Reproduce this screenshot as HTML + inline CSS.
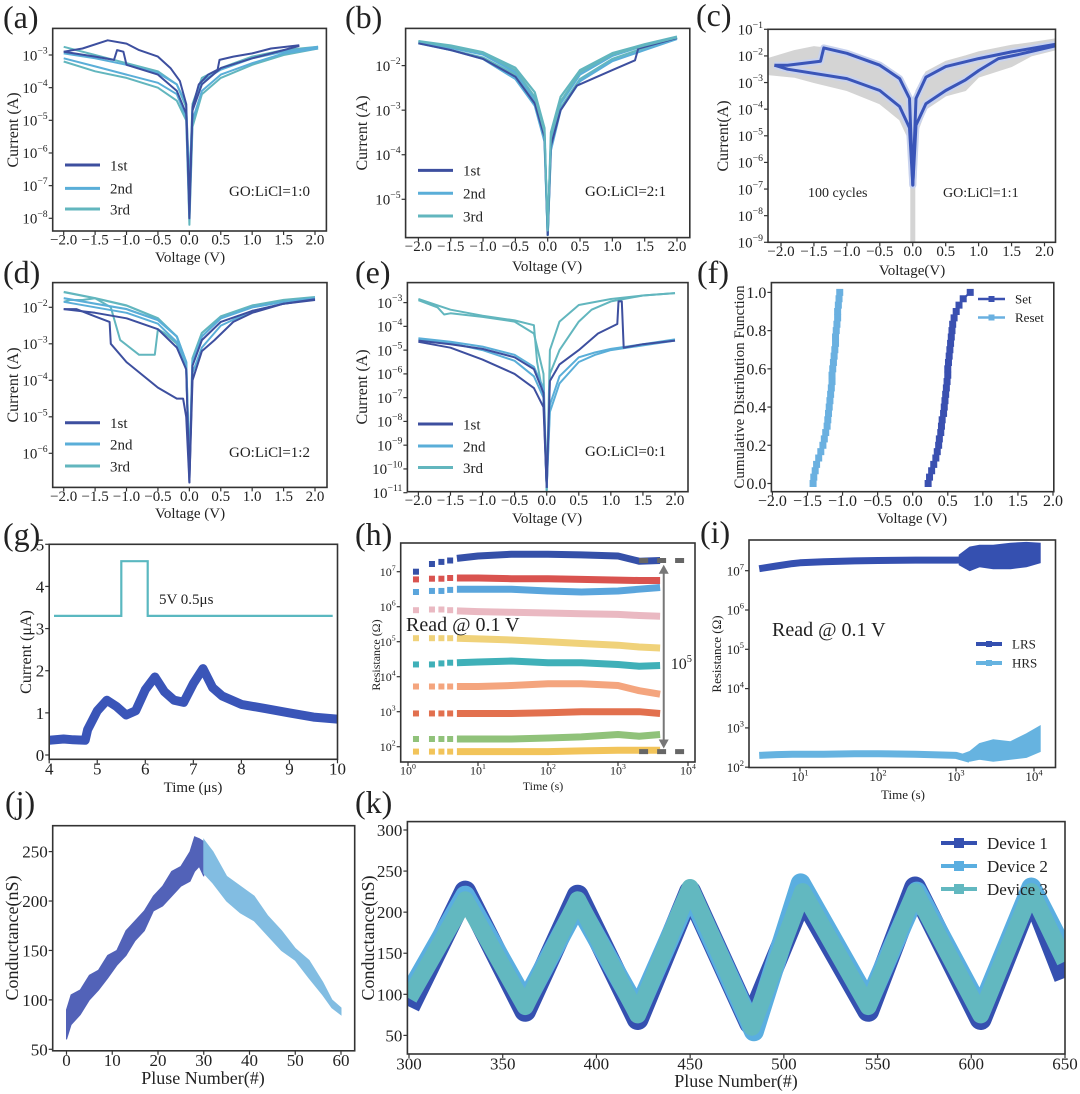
<!DOCTYPE html>
<html><head><meta charset="utf-8">
<style>
html,body{margin:0;padding:0;background:#fff;}
svg{display:block;font-family:"Liberation Serif","DejaVu Serif",serif;}
</style></head>
<body>
<svg id="fig" xmlns="http://www.w3.org/2000/svg" width="1080" height="1094" viewBox="0 0 1080 1094">
<rect x="0" y="0" width="1080" height="1094" fill="#fff"/>
</svg>
<script>
// ---------------- data ----------------
const a1hiV=[-2,-1.7,-1.3,-1.0,-0.8,-0.5,-0.3,-0.15,-0.05,0,0.05,0.15,0.3,0.45,0.48,0.7,1.0,1.3,1.75];
const a1hi=[-2.9,-2.8,-2.55,-2.65,-2.85,-3.05,-3.4,-3.8,-4.5,-8.0,-4.6,-3.9,-3.6,-3.45,-3.15,-3.05,-2.95,-2.8,-2.7];
const a1loV=[-2,-1.5,-1.2,-1.15,-1.05,-1.0,-0.5,-0.2,-0.05,0,0.05,0.2,0.5,1,1.5,1.75];
const a1lo=[-2.9,-3.05,-3.15,-2.85,-2.9,-3.3,-3.6,-4.1,-4.8,-7.5,-4.7,-3.9,-3.4,-3.1,-2.85,-2.72];
const aV=[-2,-1.5,-1,-0.5,-0.2,-0.05,0,0.05,0.2,0.5,1,1.5,2.05];
const a2hi=[-2.95,-3.1,-3.3,-3.55,-3.9,-4.5,-7,-4.6,-3.8,-3.45,-3.1,-2.9,-2.75];
const a2lo=[-3.1,-3.35,-3.6,-3.85,-4.2,-4.9,-8,-5.0,-4.1,-3.6,-3.25,-2.95,-2.8];
const a3hi=[-2.75,-3.0,-3.25,-3.5,-3.9,-4.6,-7,-4.5,-3.7,-3.4,-3.05,-2.85,-2.75];
const a3lo=[-3.2,-3.5,-3.7,-4.0,-4.4,-5.0,-8.2,-5.2,-4.2,-3.7,-3.3,-3.0,-2.8];
const bV=[-2,-1.5,-1,-0.5,-0.2,-0.05,0,0.05,0.2,0.5,1,1.5,2];
const b1hi=[-1.45,-1.58,-1.72,-2.1,-2.7,-3.5,-5.7,-3.6,-2.8,-2.15,-1.75,-1.55,-1.37];
const b1loV=[-2,-1.5,-1,-0.5,-0.2,-0.05,0,0.05,0.2,0.45,1,1.35,1.4,2];
const b1lo=[-1.5,-1.65,-1.85,-2.25,-2.85,-3.6,-5.8,-3.8,-3.0,-2.45,-2.1,-1.88,-1.62,-1.38];
const b2hi=[-1.47,-1.6,-1.75,-2.15,-2.75,-3.55,-5.8,-3.7,-2.85,-2.2,-1.78,-1.55,-1.37];
const b2lo=[-1.5,-1.65,-1.85,-2.3,-2.9,-3.7,-5.8,-3.9,-3.0,-2.35,-1.9,-1.65,-1.4];
const b3hi=[-1.45,-1.55,-1.7,-2.05,-2.6,-3.4,-5.8,-3.5,-2.7,-2.1,-1.72,-1.52,-1.35];
const b3lo=[-1.48,-1.65,-1.82,-2.2,-2.8,-3.6,-5.8,-3.8,-2.95,-2.3,-1.85,-1.6,-1.38];
const cBandV=[-2.2,-1.8,-1.5,-1,-0.5,-0.2,-0.05,0,0.05,0.2,0.5,0.8,1,1.5,1.8,2.2];
const cBandHi=[-2.1,-1.8,-1.65,-1.8,-2.25,-2.75,-3.4,-4.5,-3.3,-2.6,-2.2,-2.0,-1.85,-1.6,-1.5,-1.35];
const cBandLo=[-2.7,-2.8,-3.0,-3.3,-3.8,-4.4,-5.2,-7.0,-5.0,-4.0,-3.5,-3.3,-2.8,-2.4,-2.0,-1.75];
const cHiV=[-2.1,-1.9,-1.4,-1.35,-1.0,-0.5,-0.2,-0.05,0,0.05,0.2,0.5,1,1.5,2.2];
const cHi=[-2.35,-2.35,-2.2,-1.7,-1.9,-2.35,-2.85,-3.6,-6.85,-3.6,-2.8,-2.4,-2.1,-1.85,-1.55];
const cLoV=[-2.1,-1.9,-1.0,-0.5,-0.2,-0.05,0,0.05,0.2,0.5,0.8,1,1.3,1.6,2.2];
const cLo=[-2.35,-2.5,-2.85,-3.3,-3.9,-4.7,-6.85,-4.6,-3.8,-3.3,-2.9,-2.55,-2.1,-1.95,-1.6];
const dV=[-2,-1.5,-1,-0.5,-0.2,-0.05,0,0.05,0.2,0.5,1,1.5,2];
const d1hi=[-2.05,-2.15,-2.3,-2.6,-3.1,-3.7,-6.8,-3.6,-2.9,-2.4,-2.1,-1.9,-1.78];
const d1loV=[-2,-1.8,-1.5,-1.27,-1.25,-1.0,-0.5,-0.2,-0.1,-0.05,0,0.05,0.2,0.4,0.7,1,1.5,2];
const d1lo=[-2.05,-2.05,-2.25,-2.4,-3.0,-3.5,-4.2,-4.5,-4.5,-5.0,-6.8,-4.0,-3.2,-2.9,-2.4,-2.15,-1.9,-1.8];
const d2hi=[-1.75,-1.9,-2.05,-2.35,-2.8,-3.5,-6.5,-3.5,-2.8,-2.3,-2.0,-1.85,-1.75];
const d2lo=[-1.85,-2.0,-2.15,-2.45,-2.95,-3.7,-6.5,-3.8,-3.1,-2.5,-2.1,-1.9,-1.78];
const d3hi=[-1.58,-1.75,-1.95,-2.3,-2.8,-3.5,-6.5,-3.4,-2.7,-2.25,-1.95,-1.8,-1.72];
const d3loV=[-2,-1.9,-1.7,-1.5,-1.25,-1.1,-0.8,-0.55,-0.5,-0.4,-0.2,-0.05,0];
const d3lo=[-1.85,-1.8,-1.8,-1.75,-2.0,-2.9,-3.3,-3.3,-2.6,-2.7,-3.0,-3.6,-6.5];
const e3hiV=[-2,-1.5,-1,-0.5,-0.2,-0.15,-0.05,0,0.05,0.2,0.5,1,1.5,2];
const e3hi=[-2.85,-3.3,-3.55,-3.75,-3.95,-5.5,-7,-10.9,-5,-3.8,-3.1,-2.85,-2.7,-2.6];
const e3loV=[-2,-1.7,-1.6,-1.5,-1,-0.5,-0.2,-0.05,0,0.05,0.2,0.5,0.7,1,1.5,2];
const e3lo=[-2.9,-3.2,-3.5,-3.45,-3.6,-3.8,-4.3,-6,-10.9,-6,-5,-3.8,-3.3,-2.95,-2.7,-2.6];
const eNegV=[-2,-1.5,-1,-0.5,-0.2,-0.05,0];
const e1negHi=[-4.6,-4.75,-4.95,-5.3,-5.8,-6.8,-10.8];
const e1negLo=[-4.65,-4.9,-5.4,-6.0,-6.6,-7.4,-10.8];
const e2negHi=[-4.5,-4.65,-4.85,-5.2,-5.7,-6.6,-10.8];
const e2negLo=[-4.55,-4.7,-5.0,-5.45,-6.1,-7.0,-10.8];
const e1posV=[0,0.05,0.2,0.5,0.8,1.1,1.12,1.17,1.2,1.5,2];
const e1pos=[-10.8,-6.3,-5.6,-5.0,-4.3,-3.9,-2.95,-2.95,-4.9,-4.75,-4.6];
const ePosV=[0,0.05,0.2,0.5,0.75,1,1.5,2];
const e2pos=[-10.8,-7.3,-6.1,-5.3,-5.1,-4.95,-4.75,-4.55];
const e1posLo=[-10.8,-7.6,-6.4,-5.5,-5.2,-5.0,-4.8,-4.6];
const setV=[0.22,0.24,0.27,0.3,0.33,0.35,0.37,0.38,0.4,0.41,0.42,0.44,0.45,0.46,0.47,0.48,0.49,0.5,0.5,0.51,0.52,0.53,0.54,0.55,0.56,0.57,0.59,0.62,0.66,0.72,0.82];
const resetV=[-1.42,-1.41,-1.39,-1.37,-1.34,-1.31,-1.28,-1.26,-1.24,-1.22,-1.21,-1.2,-1.19,-1.18,-1.17,-1.16,-1.15,-1.15,-1.14,-1.13,-1.12,-1.11,-1.1,-1.1,-1.09,-1.08,-1.07,-1.07,-1.06,-1.05,-1.04];
const gPulseT=[4.1,5.5,5.5,6.05,6.05,9.9];
const gPulseV=[3.3,3.3,4.6,4.6,3.3,3.3];
const gT=[4,4.3,4.5,4.75,4.8,5,5.2,5.4,5.6,5.8,6,6.2,6.4,6.6,6.8,7,7.2,7.4,7.6,8,8.5,9,9.5,10];
const gI=[0.35,0.38,0.36,0.35,0.6,1.05,1.3,1.15,0.95,1.05,1.55,1.85,1.5,1.3,1.25,1.7,2.05,1.6,1.4,1.2,1.1,1.0,0.9,0.85];
const hT=[1.3,2.2,3,4,5,10,30,100,300,1000,2000,4000];
const hS1=[7.0,7.22,7.28,7.32,7.38,7.45,7.5,7.5,7.48,7.45,7.3,7.32];
const hS2=[6.78,6.8,6.8,6.82,6.82,6.82,6.8,6.8,6.78,6.76,6.75,6.75];
const hS3=[6.42,6.45,6.45,6.48,6.5,6.5,6.5,6.45,6.42,6.45,6.5,6.55];
const hS4=[5.9,5.92,5.92,5.9,5.88,5.86,5.84,5.82,5.8,5.78,5.75,5.73];
const hS5=[5.1,5.1,5.1,5.1,5.1,5.08,5.05,5.0,4.95,4.9,4.85,4.82];
const hS6=[4.35,4.35,4.38,4.4,4.4,4.42,4.45,4.4,4.4,4.35,4.3,4.32];
const hS7=[3.72,3.72,3.72,3.72,3.72,3.72,3.75,3.8,3.8,3.75,3.6,3.5];
const hS8=[2.95,2.95,2.95,2.95,2.95,2.95,2.95,2.97,3.0,3.0,3.0,2.95];
const hS9=[2.22,2.22,2.22,2.22,2.22,2.22,2.22,2.25,2.28,2.35,2.3,2.35];
const hS10=[1.86,1.86,1.86,1.86,1.86,1.86,1.86,1.86,1.88,1.9,1.9,1.9];
const iT=[3,5,8,10,20,50,100,300,1000,1500];
const iLRS=[7.05,7.12,7.18,7.2,7.23,7.25,7.26,7.27,7.27,7.28];
const iHRS=[2.3,2.32,2.33,2.33,2.33,2.34,2.34,2.33,2.3,2.2];
const iNoiseT=[1100,1500,2000,3000,5000,8000,12000];
const iLRShi=[7.4,7.6,7.65,7.65,7.7,7.72,7.7];
const iLRSlo=[7.15,7.0,7.1,7.05,7.05,7.1,7.2];
const iHRShi=[2.3,2.4,2.6,2.7,2.65,2.85,3.05];
const iHRSlo=[2.2,2.15,2.2,2.15,2.2,2.25,2.4];
const jUpN=[0,1,3,5,7,9,11,13,15,17,19,21,23,25,27,28,29,30];
const jUpHi=[90,105,110,125,130,145,150,170,180,190,205,215,230,235,250,265,263,260];
const jUpLo=[60,75,85,100,110,122,135,145,160,170,190,195,205,215,220,230,235,225];
const jDnN=[30,32,35,38,41,44,47,50,53,56,58,60];
const jDnHi=[262,250,225,215,205,185,170,152,140,118,100,92];
const jDnLo=[228,218,200,188,180,165,150,140,122,105,92,85];
const kN1=[300,330,362,390,422,450,482,510,545,570,605,632,650];
const kD1=[85,225,80,220,70,225,65,220,80,230,70,225,120];
const kN2=[300,330,362,390,422,450,484,509,545,571,605,632,650];
const kD2=[100,220,90,210,80,225,55,235,90,225,80,230,150];
const kN3=[300,330,362,390,422,450,483,510,545,570,605,632,650];
const kD3=[95,215,85,215,75,230,60,225,85,225,75,225,140];

const ivXTicks=[-2,-1.5,-1,-0.5,0,0.5,1,1.5,2];
const aYTicks=[-3,-4,-5,-6,-7,-8];
const bYTicks=[-2,-3,-4,-5];
const cYTicks=[-1,-2,-3,-4,-5,-6,-7,-8,-9];
const dYTicks=[-2,-3,-4,-5,-6];
const eYTicks=[-3,-4,-5,-6,-7,-8,-9,-10,-11];
const fYTicks=[0,0.2,0.4,0.6,0.8,1.0];
const gXTicks=[4,5,6,7,8,9,10];
const gYTicks=[0,1,2,3,4,5];
const hXTicks=[0,1,2,3,4];
const hYTicks=[2,3,4,5,6,7];
const iXTicks=[1,2,3,4];
const jXTicks=[0,10,20,30,40,50,60];
const jYTicks=[50,100,150,200,250];
const kXTicks=[300,350,400,450,500,550,600,650];
const kYTicks=[50,100,150,200,250,300];

// ---------------- helpers ----------------
const NS='http://www.w3.org/2000/svg';
const svg=document.getElementById('fig');
function mk(tag,at,parent){const e=document.createElementNS(NS,tag);for(const k in at)e.setAttribute(k,at[k]);(parent||svg).appendChild(e);return e;}
function lin(a){const s=(a[3]-a[1])/(a[2]-a[0]);return v=>a[1]+(v-a[0])*s;}
let clipN=0;
function panel(name,fr,xa,ya){
  const root=mk('g',{});
  
  
  const id='clip'+(clipN++);
  const cp=mk('clipPath',{id:id},root);
  mk('rect',{x:fr[0],y:fr[1],width:fr[2]-fr[0],height:fr[3]-fr[1]},cp);
  const plot=mk('g',{'clip-path':'url(#'+id+')'},root);
  
  
  return {root:root,plot:plot,fr:fr,X:lin(xa),Y:lin(ya),name:name};
}
function frame(p){
  const r=mk('rect',{x:p.fr[0],y:p.fr[1],width:p.fr[2]-p.fr[0],height:p.fr[3]-p.fr[1],fill:'none',stroke:'#333','stroke-width':1.6},p.root);
  
  
}
function line(p,xs,ys,color,w,name,extra){
  let d='';xs.forEach((x,i)=>{d+=(i?'L':'M')+p.X(x).toFixed(1)+','+p.Y(ys[i]).toFixed(1);});
  const at={d:d,fill:'none',stroke:color,'stroke-width':w,'stroke-linejoin':'round','stroke-linecap':'butt'};
  if(extra)for(const k in extra)at[k]=extra[k];
  const e=mk('path',at,p.plot);
  
  
  return e;
}
function band(p,xs,hi,lo,color,name){
  let d='';xs.forEach((x,i)=>{d+=(i?'L':'M')+p.X(x).toFixed(1)+','+p.Y(hi[i]).toFixed(1);});
  for(let i=xs.length-1;i>=0;i--)d+='L'+p.X(xs[i]).toFixed(1)+','+p.Y(lo[i]).toFixed(1);
  const e=mk('path',{d:d+'Z',fill:color,stroke:color,'stroke-width':1},p.plot);
  
  
  return e;
}
function square(parent,cx,cy,s,color,name){
  const e=mk('rect',{x:cx-s/2,y:cy-s/2,width:s,height:s,fill:color},parent);
  
  
  return e;
}
function text(parent,x,y,s,size,anchor,name,rot){
  const at={x:x,y:y,'font-size':size,'text-anchor':anchor||'start',fill:'#222'};
  if(rot)at.transform='rotate(-90 '+x+' '+y+')';
  const e=mk('text',at,parent);
  e.textContent=s;
  
  
  return e;
}
function powText(parent,x,y,exp,size,anchor,name){
  const e=mk('text',{x:x,y:y,'font-size':size,'text-anchor':anchor,fill:'#222'},parent);
  
  
  const b=mk('tspan',{},e);b.textContent='10';
  const s=mk('tspan',{dy:-size*0.45,'font-size':size*0.65},e);s.textContent=String(exp).replace('-','\u2212');
  return e;
}
function fmt(v,dec){const s=Math.abs(v).toFixed(dec);return v<0?'\u2212'+s:s;}
function xTicks(p,vals,size,mode,dec){
  vals.forEach(v=>{
    const x=p.X(v);
    mk('line',{x1:x,x2:x,y1:p.fr[3],y2:p.fr[3]+4,stroke:'#333','stroke-width':1.2},p.root);
    if(mode==='pow')powText(p.root,x,p.fr[3]+size*1.05,v,size,'middle','x-tick-label');
    else text(p.root,x,p.fr[3]+size*0.9,fmt(v,dec),size,'middle','x-tick-label');
  });
}
function yTicks(p,vals,size,mode,dec){
  vals.forEach(v=>{
    const y=p.Y(v);
    mk('line',{x1:p.fr[0]-4,x2:p.fr[0],y1:y,y2:y,stroke:'#333','stroke-width':1.2},p.root);
    if(mode==='pow')powText(p.root,p.fr[0]-5,y+size*0.35,v,size,'end','y-tick-label');
    else text(p.root,p.fr[0]-5,y+size*0.35,fmt(v,dec),size,'end','y-tick-label');
  });
}
function legendLine(parent,x1,x2,y,color,w,label,size,name,marker){
  const l=mk('line',{x1:x1,x2:x2,y1:y,y2:y,stroke:color,'stroke-width':w},parent);
  
  
  if(marker)square(parent,(x1+x2)/2,y,marker,color,name+'-marker');
  text(parent,x2+10,y+size*0.35,label,size,'start',name+'-label');
}
function letter(s,x,y){text(svg,x,y,s,32,'start','panel-label-'+s.replace(/[()]/g,''));}

const C1='#3d4f9f',C2='#5aaed8',C3='#62b6be';

// (a)
{
const p=panel('panel-a',[52.7,28.4,326.4,231],[-2,63.7,2,315],[-3,55,-8,218.3]);
line(p,aV,a3lo,C3,2,'a-3rd-low');
line(p,aV,a3hi,C3,2,'a-3rd-high');
line(p,aV,a2lo,C2,2,'a-2nd-low');
line(p,aV,a2hi,C2,2,'a-2nd-high');
line(p,a1loV,a1lo,C1,2,'a-1st-low');
line(p,a1hiV,a1hi,C1,2,'a-1st-high');
frame(p);
xTicks(p,ivXTicks,15,'num',1);yTicks(p,aYTicks,15,'pow');
text(svg,190,262,'Voltage (V)',15,'middle','a-x-axis-title');
text(svg,18,130,'Current (A)',16,'middle','a-y-axis-title',true);
legendLine(p.root,65,100,165,C1,3,'1st',15,'a-legend-1st');
legendLine(p.root,65,100,188.4,C2,3,'2nd',15,'a-legend-2nd');
legendLine(p.root,65,100,209,C3,3,'3rd',15,'a-legend-3rd');
text(p.root,229,196,'GO:LiCl=1:0',15,'start','a-ratio-annotation');
}
// (b)
{
const p=panel('panel-b',[405.6,28.4,689.8,237.6],[-2,418.4,2,677],[-2,65.6,-5,199.3]);
line(p,bV,b3lo,C3,2.2,'b-3rd-low');
line(p,bV,b3hi,C3,2.2,'b-3rd-high');
line(p,bV,b2lo,C2,2.2,'b-2nd-low');
line(p,bV,b2hi,C2,2.2,'b-2nd-high');
line(p,b1loV,b1lo,C1,2,'b-1st-low');
line(p,bV,b1hi,C3,2,'b-1st-high');
frame(p);
xTicks(p,ivXTicks,15,'num',1);yTicks(p,bYTicks,15,'pow');
text(svg,547,271,'Voltage (V)',15,'middle','b-x-axis-title');
text(svg,367,133,'Current (A)',16,'middle','b-y-axis-title',true);
legendLine(p.root,418,453,170.4,C1,3,'1st',15,'b-legend-1st');
legendLine(p.root,418,453,193.3,C2,3,'2nd',15,'b-legend-2nd');
legendLine(p.root,418,453,216,C3,3,'3rd',15,'b-legend-3rd');
text(p.root,585,196,'GO:LiCl=2:1',15,'start','b-ratio-annotation');
}
// (c)
{
const p=panel('panel-c',[768,29.3,1055.5,242.3],[-2,781,2,1044.5],[-1,29.3,-9,242.3]);
band(p,cBandV,cBandHi,cBandLo,'#d4d4d4','c-cycle-envelope');
line(p,[0,0],[-6.8,-9],'#d4d4d4',5,'c-cycle-spike');
line(p,cHiV,cHi,'#c8d2ee',7,'c-mean-high-halo');
line(p,cLoV,cLo,'#c8d2ee',7,'c-mean-low-halo');
line(p,cHiV,cHi,'#3a55b8',3,'c-mean-high');
line(p,cLoV,cLo,'#3a55b8',3,'c-mean-low');
frame(p);
xTicks(p,ivXTicks,15,'num',1);yTicks(p,cYTicks,15,'pow');
text(svg,912,275,'Voltage(V)',15,'middle','c-x-axis-title');
text(svg,728,136,'Current(A)',16,'middle','c-y-axis-title',true);
text(p.root,808,197,'100 cycles',14,'start','c-cycles-annotation');
text(p.root,943,197,'GO:LiCl=1:1',14,'start','c-ratio-annotation');
}
// (d)
{
const p=panel('panel-d',[52.7,282.6,327,487.4],[-2,63.7,2,315],[-2,307.3,-6,453.3]);
line(p,dV,d3hi,C3,2.2,'d-3rd-high');
line(p,d3loV,d3lo,C3,2,'d-3rd-low');
line(p,dV,d2hi,C2,2.2,'d-2nd-high');
line(p,dV,d2lo,C2,2,'d-2nd-low');
line(p,dV,d1hi,C1,2,'d-1st-high');
line(p,d1loV,d1lo,C1,2,'d-1st-low');
frame(p);
xTicks(p,ivXTicks,15,'num',1);yTicks(p,dYTicks,15,'pow');
text(svg,190,518,'Voltage (V)',15,'middle','d-x-axis-title');
text(svg,18,385,'Current (A)',16,'middle','d-y-axis-title',true);
legendLine(p.root,65,100,422.7,C1,3,'1st',15,'d-legend-1st');
legendLine(p.root,65,100,444,C2,3,'2nd',15,'d-legend-2nd');
legendLine(p.root,65,100,466,C3,3,'3rd',15,'d-legend-3rd');
text(p.root,229,457,'GO:LiCl=1:2',15,'start','d-ratio-annotation');
}
// (e)
{
const p=panel('panel-e',[407.4,282.6,688,491.7],[-2,418.4,2,675],[-3,302.6,-11,492.7]);
line(p,e3hiV,e3hi,C3,2,'e-3rd-high');
line(p,e3loV,e3lo,C3,2,'e-3rd-low');
line(p,eNegV,e2negHi,C2,2,'e-2nd-neg-high');
line(p,eNegV,e2negLo,C2,2,'e-2nd-neg-low');
line(p,ePosV,e2pos,C2,2,'e-2nd-pos');
line(p,eNegV,e1negHi,C1,2,'e-1st-neg-high');
line(p,eNegV,e1negLo,C1,2,'e-1st-neg-low');
line(p,ePosV,e1posLo,C2,2,'e-1st-pos-low');
line(p,e1posV,e1pos,C1,2,'e-1st-pos-set');
frame(p);
xTicks(p,ivXTicks,15,'num',1);yTicks(p,eYTicks,15,'pow');
text(svg,547,523,'Voltage (V)',15,'middle','e-x-axis-title');
text(svg,367,387,'Current (A)',16,'middle','e-y-axis-title',true);
legendLine(p.root,418,453,424,C1,3,'1st',15,'e-legend-1st');
legendLine(p.root,418,453,446,C2,3,'2nd',15,'e-legend-2nd');
legendLine(p.root,418,453,467.5,C3,3,'3rd',15,'e-legend-3rd');
text(p.root,585,456,'GO:LiCl=0:1',15,'start','e-ratio-annotation');
}
// (f)
{
const p=panel('panel-f',[771.4,282.6,1053.8,491.7],[-2,772.4,2,1053],[1,292.4,0,483.5]);
const SETC='#3a50b0',RESC='#6ab0e0';
const cdf=setV.map((v,i)=>i/(setV.length-1));
const cdfR=resetV.map((v,i)=>i/(resetV.length-1));
line(p,setV,cdf,SETC,2,'f-set-line');
line(p,resetV,cdfR,RESC,2,'f-reset-line');
setV.forEach((v,i)=>square(p.plot,p.X(v),p.Y(cdf[i]),7,SETC,'f-set-point'));
resetV.forEach((v,i)=>square(p.plot,p.X(v),p.Y(cdfR[i]),7,RESC,'f-reset-point'));
frame(p);
xTicks(p,ivXTicks,16,'num',1);yTicks(p,fYTicks,16,'num',1);
text(svg,912,523,'Voltage (V)',15,'middle','f-x-axis-title');
text(svg,744,387,'Cumulative Distribution Function',15,'middle','f-y-axis-title',true);
legendLine(p.root,978,1005,299,SETC,2.5,'Set',13,'f-legend-set',6);
legendLine(p.root,978,1005,317.5,RESC,2.5,'Reset',13,'f-legend-reset',6);
}
// (g)
{
const p=panel('panel-g',[49.2,544.3,337.5,759.3],[4,49.2,10,337.5],[5,544.3,0,755]);
line(p,gPulseT,gPulseV,'#5ab8c0',2.2,'g-voltage-pulse',{'stroke-linejoin':'miter'});
line(p,gT,gI,'#3a55b8',9,'g-current-response');
frame(p);
xTicks(p,gXTicks,17,'num',0);yTicks(p,gYTicks,17,'num',0);
text(svg,193,792,'Time (\u03bcs)',15,'middle','g-x-axis-title');
text(svg,31,652,'Current (\u03bcA)',16,'middle','g-y-axis-title',true);
text(p.root,159,604,'5V 0.5\u03bcs',15,'start','g-pulse-annotation');
}
// (h)
{
const p=panel('panel-h',[400.7,543,695,762],[0,408,4,688],[7,571.7,2,746.7]);
const series=[hS1,hS2,hS3,hS4,hS5,hS6,hS7,hS8,hS9,hS10];
const cols=['#3550a8','#d9534f','#5aa5dc','#eab9c2','#f0d27a','#3fb0b8','#f4a57e','#e2704e','#90c27a','#f2c45a'];
const lt=hT.map(t=>Math.log10(t));
series.forEach((s,k)=>{
  line(p,lt.slice(4),s.slice(4),cols[k],7,'h-state-'+(k+1)+'-line');
  lt.slice(0,4).forEach((x,i)=>square(p.plot,p.X(x),p.Y(s[i]),6,cols[k],'h-state-'+(k+1)+'-point'));
});
line(p,[Math.log10(2000),4],[7.32,7.32],'#666',5,'h-top-dashed',{'stroke-dasharray':'9,9'});
line(p,[Math.log10(2000),4],[1.86,1.86],'#666',5,'h-bottom-dashed',{'stroke-dasharray':'9,9'});
const ax=p.X(Math.log10(4500));
const arr=mk('path',{d:'M'+ax+','+(p.Y(7.2)+8)+'L'+ax+','+(p.Y(1.95)-8),stroke:'#777','stroke-width':2,fill:'none'},p.root);


const ah=mk('path',{d:'M'+(ax-5)+','+(p.Y(7.2)+9)+'L'+ax+','+p.Y(7.2)+'L'+(ax+5)+','+(p.Y(7.2)+9)+'Z M'+(ax-5)+','+(p.Y(1.95)-9)+'L'+ax+','+p.Y(1.95)+'L'+(ax+5)+','+(p.Y(1.95)-9)+'Z',fill:'#777'},p.root);


powText(p.root,ax+7,669,5,16,'start','h-window-label');
frame(p);
xTicks(p,hXTicks,12,'pow');yTicks(p,hYTicks,12,'pow');
text(svg,543,790,'Time (s)',12,'middle','h-x-axis-title');
text(svg,380,655,'Resistance (\u03a9)',12,'middle','h-y-axis-title',true);
text(p.root,406,631,'Read @ 0.1 V',20,'start','h-read-annotation');
}
// (i)
{
const p=panel('panel-i',[749,540,1055.5,767.5],[1,800,4,1034],[7,570.7,2,767.2]);
const L='#3550b0',H='#66b3e0';
band(p,iNoiseT.map(Math.log10),iLRShi,iLRSlo,L,'i-lrs-noise');
band(p,iNoiseT.map(Math.log10),iHRShi,iHRSlo,H,'i-hrs-noise');
line(p,iT.map(Math.log10),iLRS,L,7,'i-lrs-line');
line(p,iT.map(Math.log10),iHRS,H,7,'i-hrs-line');
frame(p);
xTicks(p,iXTicks,13,'pow');yTicks(p,hYTicks,13,'pow');
text(svg,903,799,'Time (s)',13,'middle','i-x-axis-title');
text(svg,721,654,'Resistance (\u03a9)',13,'middle','i-y-axis-title',true);
text(p.root,772,636,'Read @ 0.1 V',20,'start','i-read-annotation');
legendLine(p.root,976,1002,644,L,4,'LRS',13,'i-legend-lrs',6);
legendLine(p.root,976,1002,663,H,4,'HRS',13,'i-legend-hrs',6);
}
// (j)
{
const p=panel('panel-j',[52.7,825.7,354.7,1050.8],[0,66.5,60,341],[250,851.6,50,1049.3]);
band(p,jUpN,jUpHi,jUpLo,'#5262b8','j-potentiation');
band(p,jDnN,jDnHi,jDnLo,'#82bde2','j-depression');
frame(p);
xTicks(p,jXTicks,17,'num',0);yTicks(p,jYTicks,17,'num',0);
text(svg,203,1084,'Pluse Number(#)',18,'middle','j-x-axis-title');
text(svg,18,938,'Conductance(nS)',18,'middle','j-y-axis-title',true);
}
// (k)
{
const p=panel('panel-k',[407.4,821.6,1065,1054],[300,409,650,1065],[300,830,50,1035.4]);
const K1='#3550b0',K2='#5aaee0',K3='#62b8c0';
line(p,kN1,kD1,K1,22,'k-device-1');
line(p,kN2,kD2,K2,20,'k-device-2');
line(p,kN3,kD3,K3,17,'k-device-3');
frame(p);
xTicks(p,kXTicks,17,'num',0);yTicks(p,kYTicks,17,'num',0);
text(svg,736,1087,'Pluse Number(#)',18,'middle','k-x-axis-title');
text(svg,374,938,'Conductance(nS)',18,'middle','k-y-axis-title',true);
legendLine(p.root,941,977,843,K1,4,'Device 1',17,'k-legend-device-1',10);
legendLine(p.root,941,977,866,K2,4,'Device 2',17,'k-legend-device-2',10);
legendLine(p.root,941,977,889,K3,4,'Device 3',17,'k-legend-device-3',10);
}
letter('(a)',3,28);letter('(b)',345,28);letter('(c)',696,26);
letter('(d)',3,283);letter('(e)',355,283);letter('(f)',697,283);
letter('(g)',3,545);letter('(h)',355,545);letter('(i)',700,543);
letter('(j)',5,813);letter('(k)',355,813);
</script>
</body></html>
